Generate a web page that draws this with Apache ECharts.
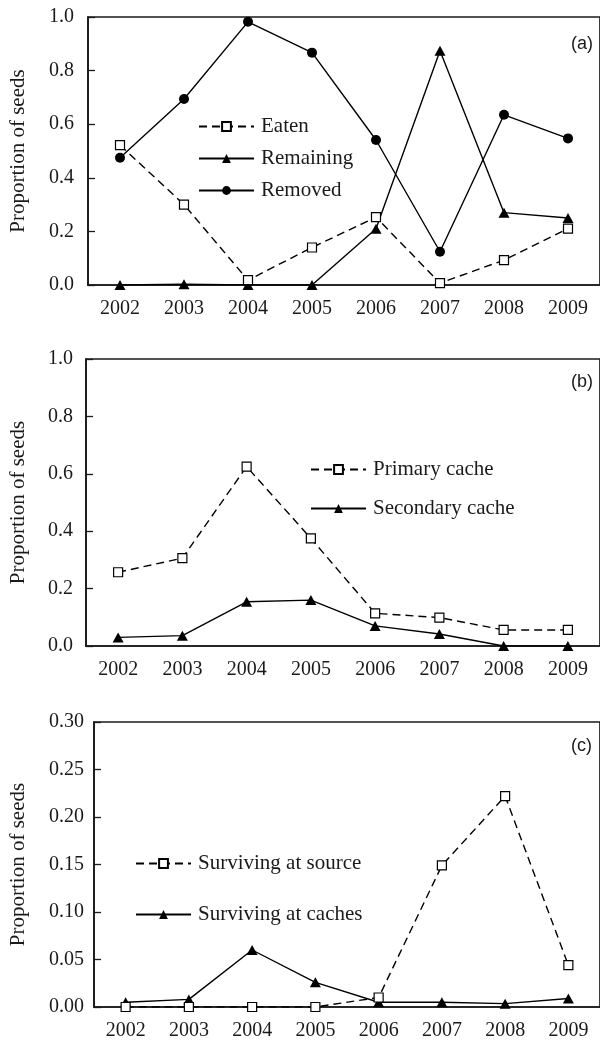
<!DOCTYPE html>
<html>
<head>
<meta charset="utf-8">
<script src="https://cdn.jsdelivr.net/npm/echarts@6/dist/echarts.min.js"></script>
<style>html,body{margin:0;padding:0;background:#fff;}#c{width:600px;height:1041px;}</style>
</head>
<body>
<div id="c"></div>
<script>
const years = ['2002','2003','2004','2005','2006','2007','2008','2009'];
// Panel (a)
const eaten = [0.522, 0.300, 0.018, 0.140, 0.253, 0.007, 0.093, 0.210];
const remaining = [0.000, 0.003, 0.000, 0.000, 0.210, 0.874, 0.270, 0.250];
const removed = [0.475, 0.694, 0.982, 0.867, 0.541, 0.124, 0.635, 0.547];
// Panel (b)
const primaryCache = [0.257, 0.306, 0.625, 0.375, 0.114, 0.099, 0.056, 0.056];
const secondaryCache = [0.030, 0.036, 0.154, 0.160, 0.070, 0.042, 0.000, 0.000];
// Panel (c)
const survSource = [0.000, 0.000, 0.000, 0.000, 0.010, 0.149, 0.222, 0.044];
const survCaches = [0.005, 0.008, 0.060, 0.026, 0.005, 0.005, 0.0035, 0.009];
// y-axis tick settings
const yRangeA = [0, 1.0, 0.2];
const yRangeB = [0, 1.0, 0.2];
const yRangeC = [0, 0.30, 0.05];
const panelLabels = ['(a)', '(b)', '(c)'];
const yName = 'Proportion of seeds';

const serif = 'Liberation Serif';
const ink = '#1a1a1a';

const gridBase = {show: true, borderColor: ink, borderWidth: 1.7, backgroundColor: 'transparent'};
const grids = [
  Object.assign({left: 84, top: 17, width: 522, height: 268}, gridBase),
  Object.assign({left: 82, top: 359, width: 522, height: 287}, gridBase),
  Object.assign({left: 89, top: 722, width: 514, height: 289}, gridBase)
];

function xAxis(i) {
  return {
    type: 'category', data: years, gridIndex: i, position: 'bottom',
    boundaryGap: true,
    axisLine: {lineStyle: {color: ink, width: 1.7}},
    axisTick: {inside: true, length: 7, lineStyle: {color: ink, width: 1.3}},
    axisLabel: {color: ink, fontFamily: serif, fontSize: 20, margin: 14}
  };
}

function yAxis(i, r, dec, gap, margin) {
  return {
    type: 'value', gridIndex: i, min: r[0], max: r[1], interval: r[2],
    name: yName, nameLocation: 'middle', nameGap: gap,
    nameTextStyle: {color: ink, fontFamily: serif, fontSize: 21},
    axisLine: {show: true, lineStyle: {color: ink, width: 1.7}},
    axisTick: {show: true, inside: true, length: 7, lineStyle: {color: ink, width: 1.3}},
    axisLabel: {color: ink, fontFamily: serif, fontSize: 20, margin: margin,
      formatter: v => v.toFixed(dec)},
    splitLine: {show: false}
  };
}

function seriesOf(name, data, kind, gi) {
  const s = {
    name: name, type: 'line', data: data,
    xAxisIndex: gi, yAxisIndex: gi,
    showAllSymbol: true, animation: false,
    lineStyle: {color: '#000', width: 1.4}
  };
  if (kind === 'square') {
    s.symbol = 'rect'; s.symbolSize = 9;
    s.itemStyle = {color: '#fff', borderColor: '#000', borderWidth: 1.2};
    s.lineStyle.type = [8, 5];
    s.z = 3;
  } else if (kind === 'triangle') {
    s.symbol = 'triangle'; s.symbolSize = [11, 10];
    s.itemStyle = {color: '#000'};
  } else {
    s.symbol = 'circle'; s.symbolSize = 10;
    s.itemStyle = {color: '#000'};
  }
  return s;
}

function legendOf(names, left, top, gap) {
  return {
    data: names, orient: 'vertical', left: left, top: top,
    itemWidth: 55, itemHeight: 11, itemGap: gap, selectedMode: false,
    textStyle: {color: ink, fontFamily: serif, fontSize: 21, lineHeight: 20, padding: [0, 0, 0, 2]}
  };
}

const labelStyle = {fontFamily: 'Liberation Sans', fontSize: 18, fontWeight: 'normal', color: ink};

const option = {
  animation: false,
  backgroundColor: '#fff',
  title: [
    {text: panelLabels[0], left: 566, top: 30, textStyle: labelStyle},
    {text: panelLabels[1], left: 566, top: 368, textStyle: labelStyle},
    {text: panelLabels[2], left: 566, top: 732, textStyle: labelStyle}
  ],
  grid: grids,
  xAxis: [xAxis(0), xAxis(1), xAxis(2)],
  yAxis: [yAxis(0, yRangeA, 1, 59, 14), yAxis(1, yRangeB, 1, 57, 13), yAxis(2, yRangeC, 2, 65, 10)],
  legend: [
    legendOf(['Eaten', 'Remaining', 'Removed'], 193, 111, 11),
    legendOf(['Primary cache', 'Secondary cache'], 305, 454, 18),
    legendOf(['Surviving at source', 'Surviving at caches'], 130, 848, 30)
  ],
  series: [
    seriesOf('Removed', removed, 'circle', 0),
    seriesOf('Remaining', remaining, 'triangle', 0),
    seriesOf('Eaten', eaten, 'square', 0),
    seriesOf('Secondary cache', secondaryCache, 'triangle', 1),
    seriesOf('Primary cache', primaryCache, 'square', 1),
    seriesOf('Surviving at caches', survCaches, 'triangle', 2),
    seriesOf('Surviving at source', survSource, 'square', 2)
  ]
};

const chart = echarts.init(document.getElementById('c'), null, {renderer: 'canvas'});
chart.setOption(option);
</script>
</body>
</html>
